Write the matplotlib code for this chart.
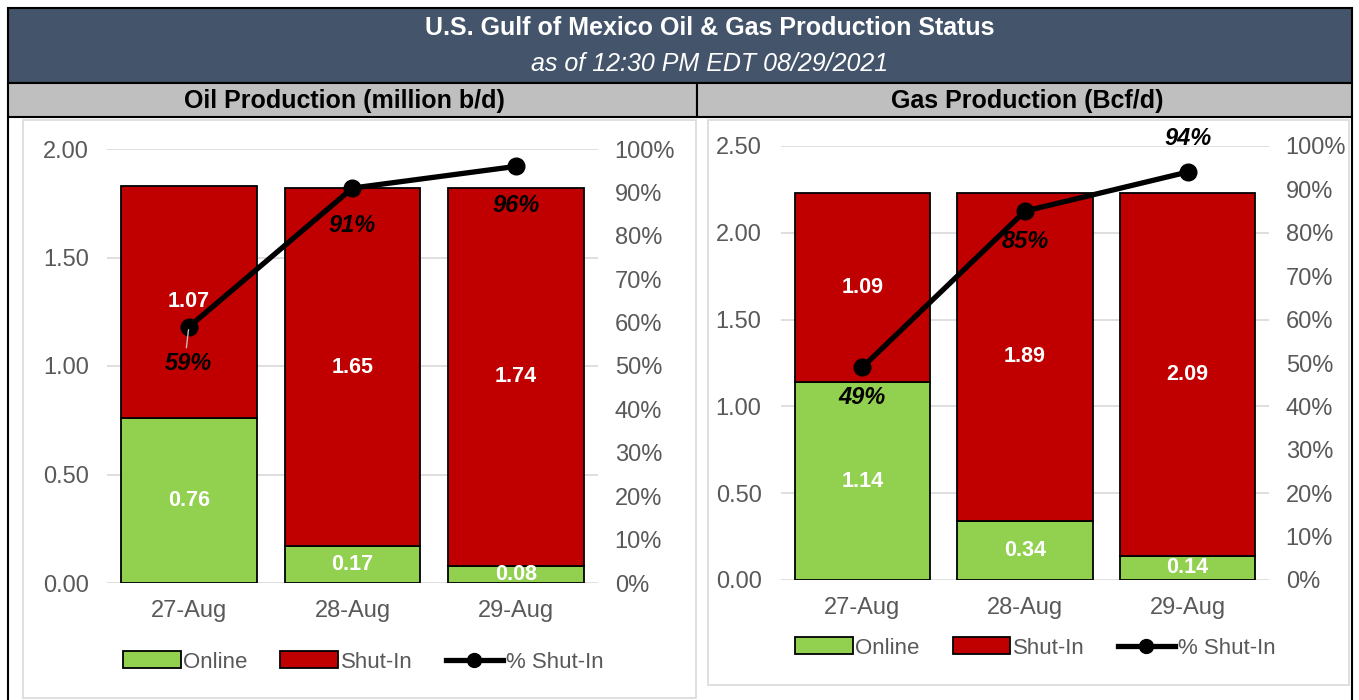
import matplotlib
matplotlib.use("Agg")
import matplotlib.pyplot as plt
from matplotlib.patches import Rectangle, Patch
from matplotlib.lines import Line2D
from matplotlib.ticker import FuncFormatter

plt.rcParams['font.family'] = ['Liberation Sans', 'DejaVu Sans']

days = ['27-Aug', '28-Aug', '29-Aug']
oil_online = [0.76, 0.17, 0.08]
oil_shut = [1.07, 1.65, 1.74]
oil_pct = [59, 91, 96]
gas_online = [1.14, 0.34, 0.14]
gas_shut = [1.09, 1.89, 2.09]
gas_pct = [49, 85, 94]

GREEN = '#92D050'
RED = '#C00000'
GRAY = '#595959'
W, H = 1359, 700

fig = plt.figure(figsize=(W / 100, H / 100), dpi=100)


def box(x0, y0, x1, y1, **kw):
    # pixel coords (top-left origin) -> figure rectangle
    fig.add_artist(Rectangle((x0 / W, 1 - y1 / H), (x1 - x0) / W, (y1 - y0) / H,
                             transform=fig.transFigure, **kw))


# header bands
box(8, 8, 1352, 83, facecolor='#44546A', edgecolor='black', lw=1.5)
box(8, 83, 697, 117, facecolor='#BFBFBF', edgecolor='black', lw=1.5)
box(697, 83, 1352, 117, facecolor='#BFBFBF', edgecolor='black', lw=1.5)
fig.add_artist(Line2D([8 / W, 8 / W], [0, 1 - 117 / H], color='black', lw=1.5, transform=fig.transFigure))
fig.add_artist(Line2D([1352 / W, 1352 / W], [0, 1 - 117 / H], color='black', lw=1.5, transform=fig.transFigure))
box(23, 120, 696, 698, facecolor='none', edgecolor='#D9D9D9', lw=1.2)
box(708, 120, 1349, 685, facecolor='none', edgecolor='#D9D9D9', lw=1.2)

fig.text(710 / W, 1 - 28 / H, 'U.S. Gulf of Mexico Oil & Gas Production Status', color='white',
         fontsize=18, fontweight='bold', ha='center', va='center')
fig.text(710 / W, 1 - 64 / H, 'as of 12:30 PM EDT 08/29/2021', color='white',
         fontsize=18, style='italic', ha='center', va='center')
fig.text(344 / W, 1 - 101 / H, 'Oil Production (million b/d)', color='black',
         fontsize=18, fontweight='bold', ha='center', va='center')
fig.text(1027 / W, 1 - 101 / H, 'Gas Production (Bcf/d)', color='black',
         fontsize=18, fontweight='bold', ha='center', va='center')


def panel(rect, online, shut, pct, ymax, ystep, pct_pos, leg_xy, ypad):
    ax = fig.add_axes(rect)
    x = range(len(days))
    ax.bar(x, online, width=0.83, color=GREEN, edgecolor='black', lw=1.3, zorder=2, label='Online')
    ax.bar(x, shut, bottom=online, width=0.83, color=RED, edgecolor='black', lw=1.3, zorder=2, label='Shut-In')
    for i in x:
        ax.text(i, online[i] / 2, f'{online[i]:.2f}', color='white', fontsize=15.5, fontweight='bold',
                ha='center', va='center', zorder=5)
        ax.text(i, online[i] + shut[i] / 2, f'{shut[i]:.2f}', color='white', fontsize=15.5,
                fontweight='bold', ha='center', va='center', zorder=5)
    ax.set_xlim(-0.5, len(days) - 0.5)
    ax.set_ylim(0, ymax)
    ticks = [i * ystep for i in range(int(round(ymax / ystep)) + 1)]
    ax.set_yticks(ticks)
    ax.yaxis.set_major_formatter(FuncFormatter(lambda v, p: f'{v:.2f}'))
    ax.set_xticks(list(x))
    ax.set_xticklabels(days)
    ax.grid(axis='y', color='#D9D9D9', lw=1.2, zorder=0)
    ax.set_axisbelow(True)
    for s in ax.spines.values():
        s.set_visible(False)
    ax.tick_params(length=0, labelsize=17, labelcolor=GRAY)
    ax.tick_params(axis='y', pad=ypad)
    ax.tick_params(axis='x', pad=12)

    ax2 = ax.twinx()
    ax2.set_ylim(0, 100)
    ax2.set_yticks(range(0, 101, 10))
    ax2.yaxis.set_major_formatter(FuncFormatter(lambda v, p: f'{v:.0f}%'))
    for s in ax2.spines.values():
        s.set_visible(False)
    ax2.tick_params(length=0, labelsize=17, labelcolor=GRAY, pad=12)
    ax2.plot(list(x), pct, color='black', lw=3.8, marker='o', markersize=12, zorder=6,
             label='% Shut-In')
    for i in x:
        dy = pct_pos[i]
        ax2.annotate(f'{pct[i]}%', (i, pct[i]), xytext=(0, dy), textcoords='offset points',
                     ha='center', va='center', fontsize=17, fontweight='bold', style='italic',
                     color='black', zorder=7)

    handles = [Patch(facecolor=GREEN, edgecolor='black', lw=1.3),
               Patch(facecolor=RED, edgecolor='black', lw=1.3),
               Line2D([0], [0], color='black', lw=3.8, marker='o', markersize=10)]
    fig.legend(handles, ['Online', 'Shut-In', '% Shut-In'], loc='center',
               bbox_to_anchor=leg_xy, ncol=3, frameon=False,
               fontsize=16, labelcolor=GRAY, handlelength=2.6, handleheight=0.8,
               handletextpad=0.1, columnspacing=1.5)
    return ax, ax2


ax, ax2 = panel([107 / W, 117 / H, 491 / W, 434 / H], oil_online, oil_shut, oil_pct, 2.0, 0.5,
                [-26, -27, -28], (363 / W, 1 - 662 / H), 13)
# leader line for the first oil label
ax2.annotate('', (0, oil_pct[0]), xytext=(-2, -17), textcoords='offset points',
             arrowprops=dict(arrowstyle='-', color='#BFBFBF', lw=1), zorder=7)
panel([781 / W, 120 / H, 488 / W, 434 / H], gas_online, gas_shut, gas_pct, 2.5, 0.5,
      [-22, -22, 24], (1035 / W, 1 - 648 / H), 14)

fig.savefig('out.png', dpi=100)
